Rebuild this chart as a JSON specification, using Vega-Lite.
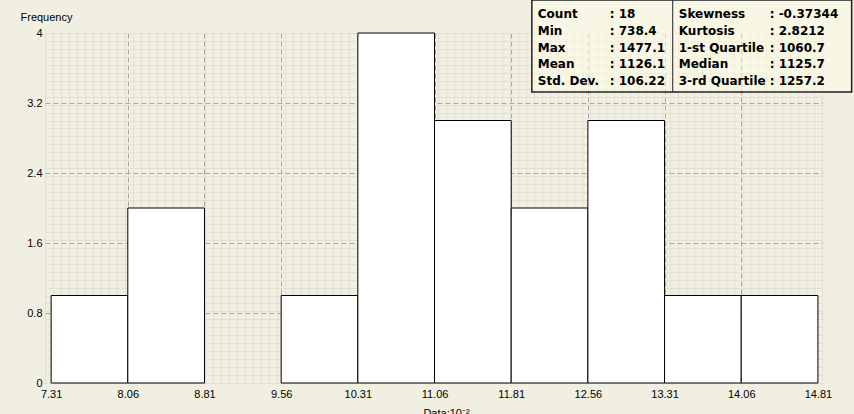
{
  "$schema": "https://vega.github.io/schema/vega-lite/v6.json",
  "width": 777,
  "height": 350,
  "autosize": "none",
  "padding": {"left": 45, "top": 33, "right": 32, "bottom": 31},
  "background": "#F1EFE2",
  "config": {
    "view": {"fill": "#F1EFE2", "stroke": "#9C9C9C", "strokeWidth": 1},
    "axis": {"labelFont": "Liberation Sans", "labelFontSize": 11, "labelColor": "#000000", "titleFont": "Liberation Sans", "titleFontSize": 11, "titleFontWeight": "normal", "titleColor": "#000000"}
  },
  "layer": [
    {
      "data": {"values": [{}]},
      "mark": {"type": "rule", "opacity": 0},
      "encoding": {
        "x": {"datum": 0, "type": "quantitative", "scale": {"domain": [0, 97], "nice": false, "zero": false}, "axis": {"orient": "top", "tickCount": 97, "grid": true, "gridColor": "#E2E0D1", "gridWidth": 1, "labels": false, "ticks": false, "domain": false, "title": null}},
        "y": {"datum": 0, "type": "quantitative", "scale": {"domain": [0, 44], "nice": false, "zero": false}, "axis": {"orient": "right", "tickCount": 44, "grid": true, "gridColor": "#E2E0D1", "gridWidth": 1, "labels": false, "ticks": false, "domain": false, "title": null}}
      }
    },
    {
      "data": {"values": [
        {"lo": 7.31, "hi": 8.06, "n": 1},
        {"lo": 8.06, "hi": 8.81, "n": 2},
        {"lo": 9.56, "hi": 10.31, "n": 1},
        {"lo": 10.31, "hi": 11.06, "n": 4},
        {"lo": 11.06, "hi": 11.81, "n": 3},
        {"lo": 11.81, "hi": 12.56, "n": 2},
        {"lo": 12.56, "hi": 13.31, "n": 3},
        {"lo": 13.31, "hi": 14.06, "n": 1},
        {"lo": 14.06, "hi": 14.81, "n": 1}
      ]},
      "mark": {"type": "rect", "fill": "#FFFFFF", "stroke": "#000000", "strokeWidth": 1},
      "encoding": {
        "x": {"field": "lo", "type": "quantitative", "scale": {"domain": [7.25, 14.85], "nice": false, "zero": false},
          "axis": {"orient": "bottom", "values": [7.31, 8.06, 8.81, 9.56, 10.31, 11.06, 11.81, 12.56, 13.31, 14.06, 14.81], "format": ".2f", "grid": true, "gridDash": [5, 3], "gridColor": "#A8A8A8", "gridOpacity": {"condition": {"test": "datum.value < 7.4 || datum.value > 14.7", "value": 0}, "value": 1}, "ticks": false, "domain": false, "labelPadding": 5, "labelOverlap": false, "title": "Data:10⁻²", "titlePadding": 8, "titleX": 401}},
        "x2": {"field": "hi"},
        "y": {"field": "n", "type": "quantitative", "scale": {"domain": [0, 4], "nice": false, "zero": true},
          "axis": {"orient": "left", "values": [0, 0.8, 1.6, 2.4, 3.2, 4], "format": "~g", "grid": true, "gridDash": [5, 3], "gridColor": "#A8A8A8", "gridOpacity": {"condition": {"test": "datum.value < 0.1 || datum.value > 3.9", "value": 0}, "value": 1}, "ticks": false, "domain": false, "labelPadding": 3, "title": "Frequency", "titleAngle": 0, "titleAlign": "left", "titleBaseline": "middle", "titleX": -25, "titleY": -16}}
      }
    },
    {
      "data": {"values": [
        {"r": 0, "k1": "Count", "v1": ": 18", "k2": "Skewness", "v2": ": -0.37344"},
        {"r": 1, "k1": "Min", "v1": ": 738.4", "k2": "Kurtosis", "v2": ": 2.8212"},
        {"r": 2, "k1": "Max", "v1": ": 1477.1", "k2": "1-st Quartile", "v2": ": 1060.7"},
        {"r": 3, "k1": "Mean", "v1": ": 1126.1", "k2": "Median", "v2": ": 1125.7"},
        {"r": 4, "k1": "Std. Dev.", "v1": ": 106.22", "k2": "3-rd Quartile", "v2": ": 1257.2"}
      ]},
      "layer": [
        {
          "data": {"values": [{}]},
          "mark": {"type": "rect", "fill": "#FFFDE6", "fillOpacity": 0.5, "stroke": "#222222", "strokeWidth": 1.5},
          "encoding": {
            "x": {"datum": 12.012, "type": "quantitative", "scale": {"domain": [7.25, 14.85], "nice": false, "zero": false}, "axis": null},
            "x2": {"datum": 15.14},
            "y": {"datum": -0.836, "type": "quantitative", "scale": {"domain": [1.134, 22.03], "nice": false, "zero": false, "reverse": true}, "axis": null},
            "y2": {"datum": 4.656}
          }
        },
        {
          "data": {"values": [{}]},
          "mark": {"type": "rule", "stroke": "#222222", "strokeWidth": 1},
          "encoding": {
            "x": {"datum": 13.39, "type": "quantitative"},
            "y": {"datum": -0.836, "type": "quantitative"},
            "y2": {"datum": 4.656}
          }
        },
        {
          "mark": {"type": "text", "align": "left", "baseline": "middle", "font": "DejaVu Sans", "fontSize": 12, "fontWeight": "bold", "color": "#000000"},
          "encoding": {"x": {"datum": 12.07, "type": "quantitative"}, "y": {"field": "r", "type": "quantitative"}, "text": {"field": "k1"}}
        },
        {
          "mark": {"type": "text", "align": "left", "baseline": "middle", "font": "DejaVu Sans", "fontSize": 12, "fontWeight": "bold", "color": "#000000"},
          "encoding": {"x": {"datum": 12.774, "type": "quantitative"}, "y": {"field": "r", "type": "quantitative"}, "text": {"field": "v1"}}
        },
        {
          "mark": {"type": "text", "align": "left", "baseline": "middle", "font": "DejaVu Sans", "fontSize": 12, "fontWeight": "bold", "color": "#000000"},
          "encoding": {"x": {"datum": 13.449, "type": "quantitative"}, "y": {"field": "r", "type": "quantitative"}, "text": {"field": "k2"}}
        },
        {
          "mark": {"type": "text", "align": "left", "baseline": "middle", "font": "DejaVu Sans", "fontSize": 12, "fontWeight": "bold", "color": "#000000"},
          "encoding": {"x": {"datum": 14.338, "type": "quantitative"}, "y": {"field": "r", "type": "quantitative"}, "text": {"field": "v2"}}
        }
      ]
    }
  ],
  "resolve": {"scale": {"x": "independent", "y": "independent"}, "axis": {"x": "independent", "y": "independent"}}
}
